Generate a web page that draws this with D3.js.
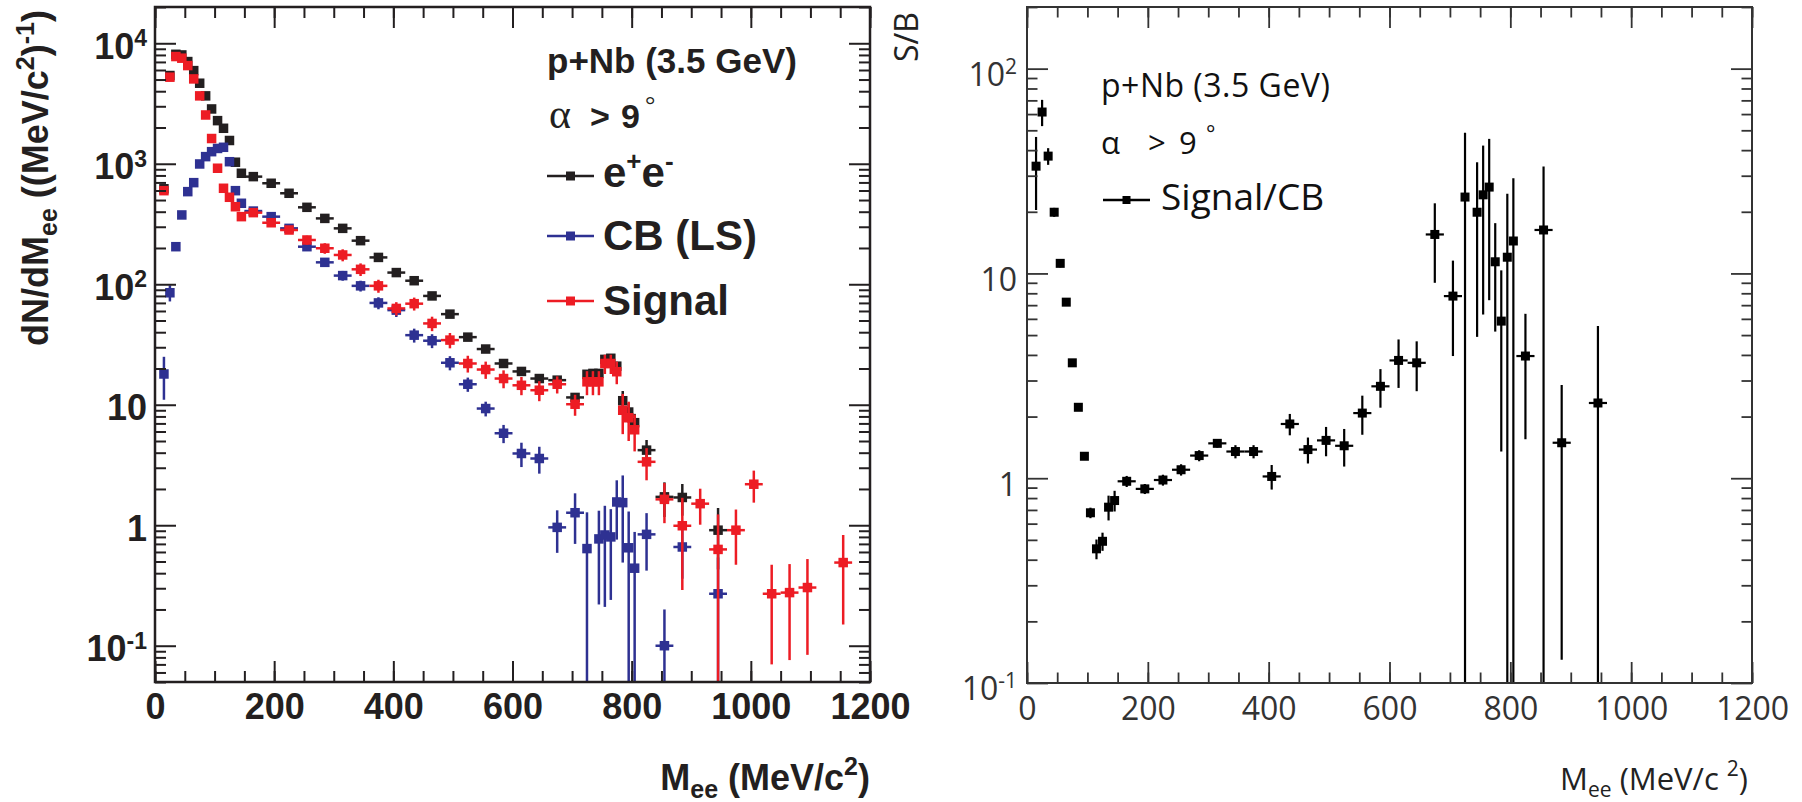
<!DOCTYPE html>
<html>
<head>
<meta charset="utf-8">
<script src="https://cdn.jsdelivr.net/npm/d3@7"></script>
<style>
  html, body { margin: 0; padding: 0; background: #fff; }
  svg { display: block; }
</style>
</head>
<body>
<div id="chart"></div>
<script>
// e+e- pairs (black), dN/dMee per bin centre in MeV/c^2.
const eeMass = [15, 25, 35, 45, 55, 65, 75, 85, 95, 105, 115, 125, 135, 145,
  165, 195, 225, 255, 285, 315, 345, 375, 405, 435, 465, 495, 525, 555, 585, 615, 645, 675, 705,
  725, 735, 745, 755, 765, 775, 785, 795, 805,
  825, 855, 885, 945];
const eeYield = [620, 5400, 8100, 8000, 7050, 5930, 4660, 3660, 2850, 2280, 1970, 1560, 1030, 834,
  782, 689, 569, 435, 352, 291, 230, 167, 125, 107, 80, 56.5, 36.4, 29, 22, 18.9, 16.5, 16, 11.5,
  17.9, 18.2, 18.2, 23.8, 24.3, 20.9, 10.8, 8.7, 7.1,
  4.2, 1.72, 1.70, 0.91];
const eeErr = [10, 60, 80, 80, 70, 60, 47, 37, 29, 23, 20, 16, 11, 9,
  8, 7, 6, 5, 4, 3.5, 3, 2.5, 2, 1.8, 1.5, 1.2, 1, 0.9, 0.8, 0.8, 0.8, 0.9, 1.0,
  1.0, 1.0, 1.0, 1.5, 1.5, 1.5, 2.2, 1.6, 1.3,
  0.9, 0.55, 0.5, 0.48];

// Combinatorial background, like-sign (blue).
const cbMass = [15, 25, 35, 45, 55, 65, 75, 85, 95, 105, 115, 125, 135, 145,
  165, 195, 225, 255, 285, 315, 345, 375, 405, 435, 465, 495, 525, 555, 585, 615, 645, 675, 705,
  725, 745, 755, 765, 775, 785, 795, 805,
  825, 855, 885, 945];
const cbYield = [18, 85, 205, 376, 587, 697, 996, 1146, 1260, 1340, 1370, 1040, 598, 470,
  405, 364, 291, 205, 152, 118, 97, 70, 61, 37.8, 34, 22.3, 14.8, 9.3, 5.8, 3.94, 3.58, 0.96, 1.27,
  0.64, 0.77, 0.83, 0.80, 1.56, 1.54, 0.65, 0.44,
  0.84, 0.10, 0.66, 0.27];
const cbErr = [7, 13, 14, 19, 24, 26, 32, 34, 35, 37, 37, 32, 24, 22,
  20, 19, 17, 14, 12, 11, 10, 8, 7.5, 5, 4.5, 3, 2, 1.3, 1.0, 0.9, 0.9, 0.37, 0.57,
  0.64, 0.55, 0.62, 0.56, 0.8, 1.05, 0.65, 0.44,
  0.42, 0.1, 0.3, 0.27];

// Signal = e+e- minus CB (red).
const sigMass = [15, 25, 35, 45, 55, 65, 75, 85, 95, 105, 115, 125, 135, 145,
  165, 195, 225, 255, 285, 315, 345, 375, 405, 435, 465, 495, 525, 555, 585, 615, 645, 675, 705,
  725, 735, 745, 755, 765, 775, 785, 795, 805,
  825, 855, 885, 915, 945, 975, 1005, 1035, 1065, 1095, 1155];
const sigYield = [598, 5230, 7760, 7520, 6530, 5060, 3660, 2540, 1620, 918, 626, 527, 440, 364,
  393, 324, 282, 233, 199, 175, 133, 97, 63, 69, 47.3, 34.4, 22, 19.6, 16.5, 14.5, 13.2, 14.8, 10.1,
  15.5, 15.5, 15.5, 22, 22, 18.8, 9.0, 7.8, 6.2,
  3.36, 1.64, 0.99, 1.51, 0.63, 0.91, 2.19, 0.27, 0.276, 0.304, 0.49];
const sigErr = [12, 60, 80, 80, 70, 60, 48, 38, 30, 24, 21, 18, 15, 13,
  20, 20, 20, 20, 20, 20, 16, 12, 8, 8.5, 6.5, 5, 3.5, 3.2, 2.8, 2.5, 2.5, 2.4, 2,
  3.5, 3.5, 3.5, 4, 4, 4, 3.3, 2.8, 2.1,
  1.0, 0.6, 0.7, 0.5, 0.6, 0.44, 0.65, 0.2, 0.2, 0.22, 0.34];

// Signal / CB ratio (right panel).
const sbMass = [15, 25, 35, 45, 55, 65, 75, 85, 95, 105, 115, 125, 135, 145,
  165, 195, 225, 255, 285, 315, 345, 375, 405, 435, 465, 495, 525, 555, 585, 615, 645, 675, 705,
  725, 745, 755, 765, 775, 785, 795, 805,
  825, 855, 885, 945];
const sbRatio = [33.4, 61.4, 37.4, 19.9, 11.2, 7.24, 3.66, 2.22, 1.28, 0.678, 0.452, 0.492, 0.722, 0.778,
  0.966, 0.887, 0.98, 1.10, 1.29, 1.48, 1.35, 1.35, 1.02, 1.84, 1.38, 1.53, 1.44, 2.08, 2.81, 3.76, 3.66, 15.5, 7.75,
  23.6, 19.9, 24.2, 26.4, 11.4, 5.85, 12.0, 14.4,
  3.95, 16.3, 1.49, 2.33];
const sbErr = [13, 9, 3.5, 1, 0.5, 0.3, 0.15, 0.08, 0.05, 0.04, 0.05, 0.05, 0.1, 0.09,
  0.06, 0.05, 0.06, 0.07, 0.08, 0.07, 0.1, 0.1, 0.14, 0.22, 0.2, 0.25, 0.3, 0.45, 0.6, 1.0, 1.0, 6.5, 3.8,
  25, 15, 17.9, 19, 6.2, 4.5, 12.5, 14.8,
  2.4, 17, 1.36, 3.2];

// Mass ranges binned in 10 MeV, everything else is 30 MeV wide.
const narrowRanges = [[10, 150], [720, 810]];

const xTickMajor = [0, 200, 400, 600, 800, 1000, 1200];
const xTickMinor = d3.range(0, 1201, 50);

const INK = '#231f20';
const BLUE = '#2e3192';
const RED = '#ed1c24';
const BOLD_FONT = "'Liberation Sans', Arial, Helvetica, sans-serif";
const THIN_FONT = "'Open Sans', 'Noto Sans', sans-serif";

/**
 * Half width of the bin a centre belongs to.
 */
function binHalfWidth(m) {
  const narrow = narrowRanges.some(([lo, hi]) => m > lo && m < hi);
  return narrow ? 5 : 15;
}

/**
 * Draws the ROOT-style frame: inward ticks on all four sides.
 */
function drawFrame(g, x, y, opt) {
  const [yBottom, yTop] = y.range();
  const [xLeft, xRight] = x.range();
  const logTicks = y.ticks();
  const isDecade = (v) => Math.abs(Math.log10(v) - Math.round(Math.log10(v))) < 1e-9;
  const yMajor = logTicks.filter(isDecade);
  const yMinor = logTicks.filter((v) => !isDecade(v));

  const style = (sel) => {
    sel.select('.domain').remove();
    sel.selectAll('.tick line').attr('stroke', opt.color).attr('stroke-width', opt.tickWidth);
  };

  // x axes, bottom with labels and a bare copy on top
  g.append('g').attr('transform', `translate(0,${yBottom})`)
    .call(d3.axisBottom(x).tickValues(xTickMinor).tickSize(-opt.minor).tickFormat(''))
    .call(style);
  g.append('g').attr('transform', `translate(0,${yTop})`)
    .call(d3.axisTop(x).tickValues(xTickMinor).tickSize(-opt.minor).tickFormat(''))
    .call(style);
  g.append('g').attr('transform', `translate(0,${yTop})`)
    .call(d3.axisTop(x).tickValues(xTickMajor).tickSize(-opt.major).tickFormat(''))
    .call(style);
  const xAxis = g.append('g').attr('transform', `translate(0,${yBottom})`)
    .call(d3.axisBottom(x).tickValues(xTickMajor).tickSize(-opt.major)
      .tickPadding(opt.xPad).tickFormat(d3.format('d')))
    .call(style);
  xAxis.selectAll('.tick text')
    .attr('fill', opt.color)
    .style('font-family', opt.font)
    .style('font-weight', opt.weight)
    .style('font-size', `${opt.fontSize}px`);

  // y axes, left with labels and a bare copy on the right
  g.append('g').attr('transform', `translate(${xLeft},0)`)
    .call(d3.axisLeft(y).tickValues(yMinor).tickSize(-opt.minor).tickFormat(''))
    .call(style);
  g.append('g').attr('transform', `translate(${xRight},0)`)
    .call(d3.axisRight(y).tickValues(yMinor).tickSize(-opt.minor).tickFormat(''))
    .call(style);
  g.append('g').attr('transform', `translate(${xRight},0)`)
    .call(d3.axisRight(y).tickValues(yMajor).tickSize(-opt.major).tickFormat(''))
    .call(style);
  const yAxis = g.append('g').attr('transform', `translate(${xLeft},0)`)
    .call(d3.axisLeft(y).tickValues(yMajor).tickSize(-opt.major).tickPadding(opt.yPad))
    .call(style);
  yAxis.selectAll('.tick text')
    .attr('fill', opt.color)
    .attr('dy', opt.yDy)
    .style('font-family', opt.font)
    .style('font-weight', opt.weight)
    .style('font-size', `${opt.fontSize}px`)
    .each(function (d) {
      const t = d3.select(this);
      const e = Math.round(Math.log10(d));
      t.text(null);
      if (e === 0) {
        t.text('1');
      } else if (e === 1) {
        t.text('10');
      } else {
        t.append('tspan').text('10');
        t.append('tspan').attr('dy', opt.supDy).style('font-size', `${opt.supSize}px`).text(e);
      }
    });

  g.append('rect')
    .attr('x', xLeft).attr('y', yTop)
    .attr('width', xRight - xLeft).attr('height', yBottom - yTop)
    .attr('fill', 'none').attr('stroke', opt.color).attr('stroke-width', opt.frameWidth);
}

/**
 * Draws one data series: error crosses and square markers.
 */
function drawSeries(g, x, y, mass, vals, errs, color, opt) {
  const [yMin, yMax] = y.domain();
  const pts = mass.map((m, i) => ({ m, v: vals[i], e: errs[i] }));
  const bars = g.append('g').attr('stroke', color).attr('stroke-width', opt.lineWidth);

  bars.selectAll('line.ey').data(pts).join('line')
    .attr('class', 'ey')
    .attr('x1', (d) => x(d.m)).attr('x2', (d) => x(d.m))
    .attr('y1', (d) => y(Math.max(d.v - d.e, yMin)))
    .attr('y2', (d) => y(Math.min(d.v + d.e, yMax)));

  bars.selectAll('line.ex').data(pts).join('line')
    .attr('class', 'ex')
    .attr('x1', (d) => x(d.m - binHalfWidth(d.m)))
    .attr('x2', (d) => x(d.m + binHalfWidth(d.m)))
    .attr('y1', (d) => y(d.v)).attr('y2', (d) => y(d.v));

  g.append('g').selectAll('rect').data(pts).join('rect')
    .attr('x', (d) => x(d.m) - opt.size / 2)
    .attr('y', (d) => y(d.v) - opt.size / 2)
    .attr('width', opt.size).attr('height', opt.size)
    .attr('fill', color);
}

/**
 * One legend row: line with a square in the middle.
 */
function legendMarker(g, x0, x1, yPos, color, size) {
  g.append('line').attr('x1', x0).attr('x2', x1).attr('y1', yPos).attr('y2', yPos)
    .attr('stroke', color).attr('stroke-width', 2.5);
  g.append('rect').attr('x', (x0 + x1) / 2 - size / 2).attr('y', yPos - size / 2)
    .attr('width', size).attr('height', size).attr('fill', color);
}

const svg = d3.select('#chart').append('svg')
  .attr('width', 1802).attr('height', 802);

// ---------- Left panel: invariant mass spectra ----------
const xL = d3.scaleLinear().domain([0, 1200]).range([155, 870]);
const yL = d3.scaleLog().domain([0.05, 2e4]).range([682, 7]);

const gL = svg.append('g');
gL.append('clipPath').attr('id', 'clipL').append('rect')
  .attr('x', 155).attr('y', 7).attr('width', 715).attr('height', 675);
const dataL = gL.append('g').attr('clip-path', 'url(#clipL)');

drawSeries(dataL, xL, yL, eeMass, eeYield, eeErr, INK, { lineWidth: 2.5, size: 9.5 });
drawSeries(dataL, xL, yL, cbMass, cbYield, cbErr, BLUE, { lineWidth: 2.5, size: 9.5 });
drawSeries(dataL, xL, yL, sigMass, sigYield, sigErr, RED, { lineWidth: 2.5, size: 9.5 });

drawFrame(gL, xL, yL, {
  color: INK, major: 21, minor: 11, tickWidth: 2, frameWidth: 2.5,
  font: BOLD_FONT, weight: 'bold', fontSize: 36, xPad: 11, yPad: 8, yDy: '0.42em',
  supDy: '-0.55em', supSize: 23,
});

// axis titles
const yTitleL = gL.append('text')
  .attr('transform', 'translate(48,178) rotate(-90)')
  .attr('text-anchor', 'middle')
  .attr('fill', INK)
  .style('font-family', BOLD_FONT).style('font-weight', 'bold').style('font-size', '36px');
yTitleL.append('tspan').text('dN/dM');
yTitleL.append('tspan').attr('dy', 9).style('font-size', '25px').text('ee');
yTitleL.append('tspan').attr('dy', -9).text(' ((MeV/c');
yTitleL.append('tspan').attr('dy', -14).style('font-size', '25px').text('2');
yTitleL.append('tspan').attr('dy', 14).text(')');
yTitleL.append('tspan').attr('dy', -14).style('font-size', '25px').text('-1');
yTitleL.append('tspan').attr('dy', 14).text(')');

const xTitleL = gL.append('text')
  .attr('x', 870).attr('y', 790)
  .attr('text-anchor', 'end')
  .attr('fill', INK)
  .style('font-family', BOLD_FONT).style('font-weight', 'bold').style('font-size', '36px');
xTitleL.append('tspan').text('M');
xTitleL.append('tspan').attr('dy', 8).style('font-size', '25px').text('ee');
xTitleL.append('tspan').attr('dy', -8).text(' (MeV/c');
xTitleL.append('tspan').attr('dy', -15).style('font-size', '25px').text('2');
xTitleL.append('tspan').attr('dy', 15).text(')');

// legend and labels
const legL = gL.append('g').attr('fill', INK)
  .style('font-family', BOLD_FONT).style('font-weight', 'bold');
legL.append('text').attr('x', 547).attr('y', 73).style('font-size', '35px').text('p+Nb (3.5 GeV)');
const cutL = legL.append('text').attr('y', 128).style('font-size', '34px');
cutL.append('tspan').attr('x', 549).style('font-family', "'Liberation Serif', serif")
  .style('font-weight', 'normal').style('font-size', '42px').text('α');
cutL.append('tspan').attr('x', 590).text('>');
cutL.append('tspan').attr('x', 621).text('9');
cutL.append('tspan').attr('x', 645).attr('dy', -15).style('font-family', "'Liberation Serif', serif")
  .style('font-weight', 'normal').style('font-size', '26px').text('°');

legendMarker(legL, 547, 594, 176, INK, 9);
legendMarker(legL, 547, 594, 236, BLUE, 9);
legendMarker(legL, 547, 594, 301, RED, 9);

const eeLabel = legL.append('text').attr('x', 603).attr('y', 187).style('font-size', '42px');
eeLabel.append('tspan').text('e');
eeLabel.append('tspan').attr('dy', -17).style('font-size', '26px').text('+');
eeLabel.append('tspan').attr('dy', 17).text('e');
eeLabel.append('tspan').attr('dy', -17).style('font-size', '26px').text('-');
legL.append('text').attr('x', 603).attr('y', 250).style('font-size', '42px').text('CB (LS)');
legL.append('text').attr('x', 603).attr('y', 315).style('font-size', '42px').text('Signal');

// ---------- Right panel: signal over background ----------
const xR = d3.scaleLinear().domain([0, 1200]).range([1027, 1752]);
const yR = d3.scaleLog().domain([0.1, 200]).range([683, 7]);

const gR = svg.append('g');
gR.append('clipPath').attr('id', 'clipR').append('rect')
  .attr('x', 1027).attr('y', 7).attr('width', 725).attr('height', 676);
const dataR = gR.append('g').attr('clip-path', 'url(#clipR)');

drawSeries(dataR, xR, yR, sbMass, sbRatio, sbErr, '#000', { lineWidth: 2.2, size: 9 });

drawFrame(gR, xR, yR, {
  color: '#333', major: 21, minor: 10.5, tickWidth: 1.8, frameWidth: 2,
  font: THIN_FONT, weight: 'normal', fontSize: 32, xPad: 14, yPad: 10, yDy: '0.53em',
  supDy: '-0.6em', supSize: 21,
});

gR.append('text')
  .attr('transform', 'translate(918,12) rotate(-90)')
  .attr('text-anchor', 'end')
  .attr('fill', '#222')
  .style('font-family', THIN_FONT).style('font-size', '32px')
  .text('S/B');

const xTitleR = gR.append('text')
  .attr('x', 1748).attr('y', 790)
  .attr('text-anchor', 'end')
  .attr('fill', '#222')
  .style('font-family', THIN_FONT).style('font-size', '31px');
xTitleR.append('tspan').text('M');
xTitleR.append('tspan').attr('dy', 7).style('font-size', '21px').text('ee');
xTitleR.append('tspan').attr('dy', -7).text(' (MeV/c ');
xTitleR.append('tspan').attr('dy', -14).style('font-size', '21px').text('2');
xTitleR.append('tspan').attr('dy', 14).text(')');

const legR = gR.append('g').attr('fill', '#111').style('font-family', THIN_FONT);
legR.append('text').attr('x', 1101).attr('y', 97).style('font-size', '32px')
  .style('letter-spacing', '0.5px').text('p+Nb (3.5 GeV)');
const cutR = legR.append('text').attr('y', 154).style('font-size', '31px');
cutR.append('tspan').attr('x', 1101).text('α');
cutR.append('tspan').attr('x', 1148).text('>');
cutR.append('tspan').attr('x', 1179).text('9');
cutR.append('tspan').attr('x', 1206).attr('dy', -13).style('font-size', '22px').text('°');
legendMarker(legR, 1103, 1150, 200, '#000', 8);
legR.append('text').attr('x', 1161).attr('y', 210).style('font-size', '37px').text('Signal/CB');
</script>
</body>
</html>
